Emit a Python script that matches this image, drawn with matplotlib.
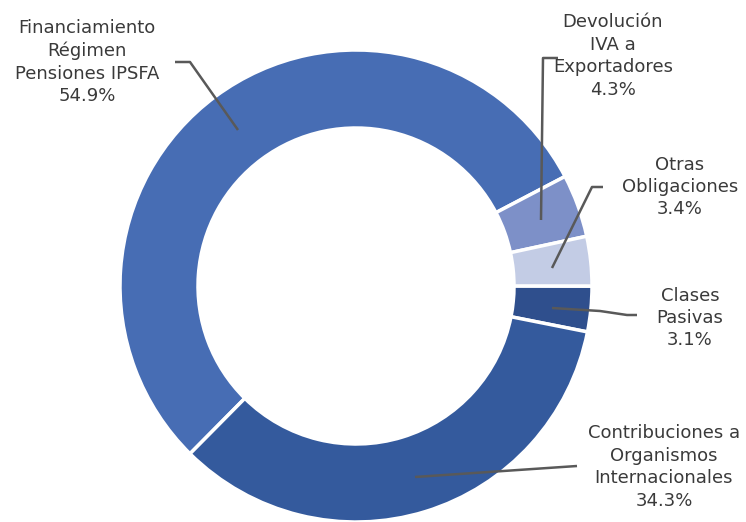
import matplotlib
matplotlib.use("Agg")
import matplotlib.pyplot as plt

# data
labels = ["Financiamiento\nRégimen\nPensiones IPSFA",
          "Devolución\nIVA a\nExportadores",
          "Otras\nObligaciones",
          "Clases\nPasivas",
          "Contribuciones a\nOrganismos\nInternacionales"]
shares = [54.9, 4.3, 3.4, 3.1, 34.3]
colors = ["#476DB4", "#7D90C8", "#C3CCE5", "#2F4F8D", "#345A9D"]

W, H = 746, 522
fig = plt.figure(figsize=(W / 100, H / 100), dpi=100)
ax = fig.add_axes([0, 0, 1, 1])

cx, cy, r = 356, H - 286, 236
ax.pie(shares, colors=colors, startangle=225.3, counterclock=False,
       center=(cx, cy), radius=r,
       wedgeprops=dict(width=78, edgecolor="white", linewidth=2.5))
ax.set_xlim(0, W)
ax.set_ylim(0, H)
ax.set_aspect("equal")
ax.axis("off")

# label anchor (centre of text block, pixel coords) and leader polylines
label_pos = [(87, 62), (613, 56), (680, 187), (690, 318), (664, 467)]
leaders = [
    [(175, 62), (190, 62), (238, 130)],
    [(558, 58), (543, 58), (541, 220)],
    [(603, 187), (592, 187), (552, 268)],
    [(552, 308), (600, 311), (627, 315), (637, 315)],
    [(415, 477), (577, 466)],
]

for name, val, (lx, ly), pts in zip(labels, shares, label_pos, leaders):
    xs = [p[0] for p in pts]
    ys = [H - p[1] for p in pts]
    ax.plot(xs, ys, color="#595959", lw=1.8, solid_capstyle="butt")
    ax.text(lx, H - ly, f"{name}\n{val:.1f}%", ha="center", va="center",
            fontsize=13, color="#3a3a3a", linespacing=1.32,
            family="DejaVu Sans")

fig.savefig("out.png", dpi=100)
